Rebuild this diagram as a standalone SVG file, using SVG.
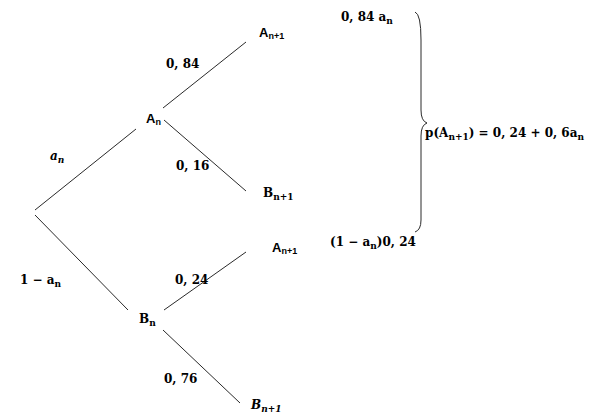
<svg xmlns="http://www.w3.org/2000/svg" width="589" height="419" viewBox="0 0 589 419">
<style>
.ln{stroke:#2a2a2a;stroke-width:1;fill:none}
.sf{font-family:"DejaVu Serif","Liberation Serif",serif;font-weight:bold;font-size:12px;fill:#000}
.ss{font-family:"Liberation Sans",Arial,sans-serif;font-weight:bold;font-size:13px;fill:#000}
.sub{font-size:9px}
.it{font-style:italic}
</style>
<rect width="589" height="419" fill="#fff"/>
<g id="connectors">
<line class="ln" x1="35" y1="210" x2="136" y2="129"/>
<line class="ln" x1="35" y1="215" x2="128" y2="310"/>
<line class="ln" x1="163" y1="108" x2="246" y2="42"/>
<line class="ln" x1="164" y1="120" x2="246" y2="191"/>
<line class="ln" x1="164" y1="310" x2="246" y2="252"/>
<line class="ln" x1="163" y1="330" x2="240" y2="403"/>
<path class="ln" d="M415,12 Q421,14 421,40 L421,110 Q421,121 427,123 Q421,125 421,136 L421,220 Q421,230 415,232"/>
</g>
<g id="label-an"><text class="sf it" x="50" y="160">a<tspan class="sub" dy="3">n</tspan></text></g>
<g id="label-1-an"><text class="sf" x="20" y="284">1 − a<tspan class="sub" dy="3">n</tspan></text></g>
<g id="node-An"><text class="ss" x="146" y="123">A<tspan class="sub" dy="2">n</tspan></text></g>
<g id="node-Bn"><text class="sf" x="139" y="323">B<tspan class="sub" dy="3">n</tspan></text></g>
<g id="node-An1-top"><text class="ss" x="259" y="37">A<tspan class="sub" dy="2">n+1</tspan></text></g>
<g id="node-Bn1-top"><text class="sf" x="263" y="197">B<tspan class="sub" dy="3">n+1</tspan></text></g>
<g id="node-An1-bot"><text class="ss" x="272" y="252">A<tspan class="sub" dy="2">n+1</tspan></text></g>
<g id="node-Bn1-bot"><text class="sf it" x="251" y="409">B<tspan class="sub" dy="3">n+1</tspan></text></g>
<g id="label-084"><text class="sf" x="166" y="68">0, 84</text></g>
<g id="label-016"><text class="sf" x="176" y="170">0, 16</text></g>
<g id="label-024"><text class="sf" x="175" y="284">0, 24</text></g>
<g id="label-076"><text class="sf" x="164" y="383">0, 76</text></g>
<g id="label-084an"><text class="sf" x="341" y="21">0, 84 a<tspan class="sub" dy="3">n</tspan></text></g>
<g id="label-1an024"><text class="sf" x="330" y="246">(1 − a<tspan class="sub" dy="3">n</tspan><tspan dy="-3">)0, 24</tspan></text></g>
<g id="formula"><text class="sf" x="425" y="137">p(A<tspan class="sub" dy="3">n+1</tspan><tspan dy="-3">) = 0, 24 + 0, 6a</tspan><tspan class="sub" dy="3">n</tspan></text></g>
</svg>
